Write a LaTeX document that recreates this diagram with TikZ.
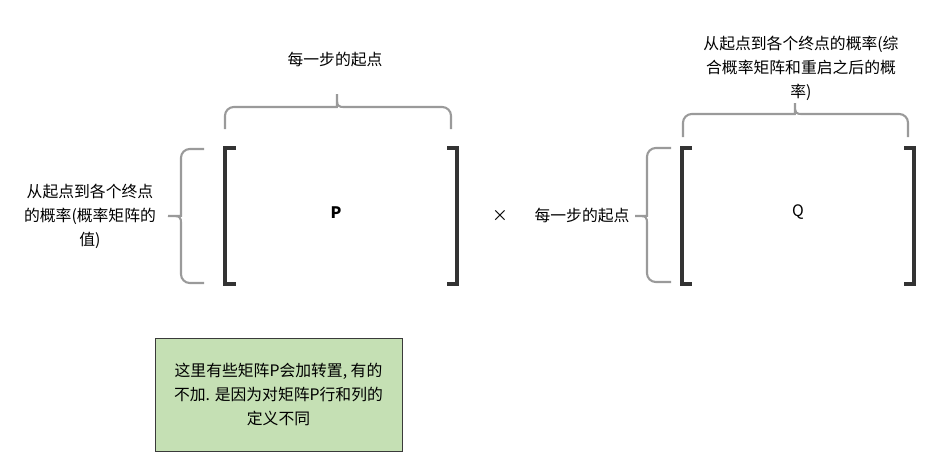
\documentclass[tikz,border=0pt]{standalone}
\usepackage{fontspec}
\setmainfont{Noto Sans CJK SC}
\usepackage{tikz}
\usetikzlibrary{positioning,calc}
\definecolor{curlgray}{HTML}{9A9A9A}
\definecolor{bracketdark}{HTML}{333333}
\definecolor{notegreen}{HTML}{C5E0B4}
\definecolor{notedraw}{HTML}{3A3A3A}

% vertical curly bracket opening to the right: #1 end x, #2 line x, #3 tip x, #4 top y, #5 mid y, #6 bottom y
\newcommand{\curlleft}[6]{%
  \draw[curl] (#1,#4) -- (#2,#4) -- (#2,#5-9) [sharp corners]
     .. controls (#2,#5) .. (#3,#5) .. controls (#2,#5) .. (#2,#5+9)
     [rounded corners=5pt] -- (#2,#6) -- (#1,#6);}
% horizontal curly bracket opening downwards: #1 end y, #2 line y, #3 tip y, #4 left x, #5 mid x, #6 right x
\newcommand{\curltop}[6]{%
  \draw[curl] (#4,#1) -- (#4,#2) -- (#5-9,#2) [sharp corners]
     .. controls (#5,#2) .. (#5,#3) .. controls (#5,#2) .. (#5+9,#2)
     [rounded corners=5pt] -- (#6,#2) -- (#6,#1);}

\begin{document}
\begin{tikzpicture}[
    x=0.02cm,y=-0.02cm,
    curl/.style    = {curlgray, line width=1.2pt, rounded corners=5pt},
    bracket/.style = {bracketdark, line width=2.4pt, line join=miter},
    lbl/.style     = {font=\fontsize{9}{13.6}\selectfont, align=center, inner sep=0pt},
    note/.style    = {draw=notedraw, fill=notegreen, line width=0.5pt,
                      minimum width=247*0.02cm, minimum height=113*0.02cm,
                      font=\fontsize{9}{13.6}\selectfont, align=center},
  ]
  \useasboundingbox (0,0) rectangle (936,467);

  % matrix P
  \draw[bracket] (236,148) -- (225,148) -- (225,284) -- (236,284);
  \draw[bracket] (447,148) -- (457,148) -- (457,284) -- (447,284);
  \node[lbl] (matP) at (336,213) {\textbf{P}};

  \curltop{129}{107}{94}{225}{337}{451}
  \node[lbl] (topP) at (335,60) {每一步的起点};

  \curlleft{204}{181}{168}{149}{216}{283}
  \node[lbl] (leftP) at (90,216) {从起点到各个终点\\的概率(概率矩阵的\\值)};

  \node[lbl] (times) at (500,216) {×};

  % matrix Q
  \draw[bracket] (692,148) -- (682,148) -- (682,284) -- (692,284);
  \draw[bracket] (904,148) -- (914,148) -- (914,284) -- (904,284);
  \node[lbl] (matQ) at (798,212) {Q};

  \curltop{137}{114}{103}{683}{795}{908}
  \node[lbl] (topQ) at (801,68) {从起点到各个终点的概率(综\\合概率矩阵和重启之后的概\\率)};

  \curlleft{671}{647}{635}{148}{216}{282}
  \node[lbl] (leftQ) at (582,215) {每一步的起点};

  % remark
  \node[note] (remark) at (278.5,394.5)
       {这里有些矩阵P会加转置, 有的\\不加. 是因为对矩阵P行和列的\\定义不同};
\end{tikzpicture}
\end{document}
